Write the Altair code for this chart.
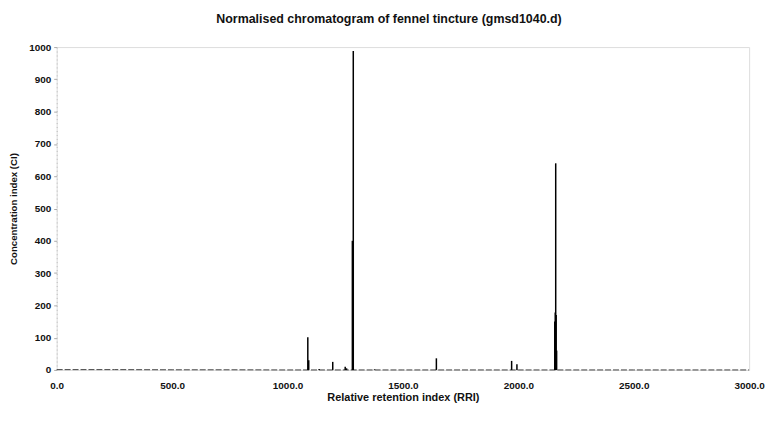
import altair as alt
import pandas as pd

# Peak positions (relative retention index) and heights (concentration index)
peak_rri = [1088, 1092, 1137, 1196, 1250, 1256, 1281, 1285, 1377, 1645, 1971, 1994, 2158, 2160, 2162, 2164, 2166]
peak_ci = [101, 30, 3, 25, 10, 5, 400, 988, 2, 36, 28, 18, 150, 178, 640, 170, 60]

# Baseline trace
base_rri = [0, 250, 500, 750, 1000, 1250, 1500, 1750, 2000, 2250, 2500, 2750, 3000]
base_ci = [1, 1, 0.5, 0.5, 0, 0, 0, 0, 0, 0, 0, 0, 0]

x_ticks = [0, 500, 1000, 1500, 2000, 2500, 3000]
y_ticks = [0, 100, 200, 300, 400, 500, 600, 700, 800, 900, 1000]

peaks = pd.DataFrame({"rri": peak_rri, "ci": peak_ci})
base = pd.DataFrame({"rri": base_rri, "ci": base_ci})

FONT = "Liberation Sans"

x_enc = alt.X(
    "rri:Q",
    scale=alt.Scale(domain=[0, 3000], nice=False),
    axis=alt.Axis(
        values=x_ticks, format=".1f", title="Relative retention index (RRI)",
        domain=False, ticks=False, grid=False, labelPadding=11, labelFlush=False,
        labelFont=FONT, labelFontSize=10, labelFontWeight="bold", labelColor="#111",
        titleFont=FONT, titleFontSize=11, titleFontWeight="bold", titleColor="#111",
        titlePadding=1,
    ),
)
y_enc = alt.Y(
    "ci:Q",
    scale=alt.Scale(domain=[0, 1000], nice=False),
    axis=alt.Axis(
        values=y_ticks, format="d", title="Concentration index (CI)",
        domain=True, domainColor="#bbb", domainDash=[1, 3], domainWidth=1,
        ticks=True, tickSize=3, tickColor="#aaa", grid=False, labelPadding=3,
        labelFont=FONT, labelFontSize=10, labelFontWeight="bold", labelColor="#111",
        titleFont=FONT, titleFontSize=9.7, titleFontWeight="bold", titleColor="#111",
        titlePadding=10,
    ),
)

baseline = alt.Chart(base).mark_line(color="#444", strokeWidth=1, strokeDash=[6, 2]).encode(
    x=x_enc, y=y_enc
)

spikes = alt.Chart(peaks).mark_rule(color="#000", strokeWidth=1.5).encode(
    x=x_enc, y=y_enc, y2=alt.datum(0)
)

chart = alt.layer(baseline, spikes).properties(
    width=697,
    height=325,
    autosize="none",
    padding={"left": 49, "top": 38, "right": 20, "bottom": 40},
    title=alt.TitleParams(
        text="Normalised chromatogram of fennel tincture (gmsd1040.d)",
        font=FONT, fontSize=12.5, fontWeight="bold", color="#111",
        anchor="middle", dx=-14, offset=17,
    ),
).configure_view(stroke=None).configure(background="white")

chart.save("out.html", embed_options={"renderer": "svg", "actions": False})
